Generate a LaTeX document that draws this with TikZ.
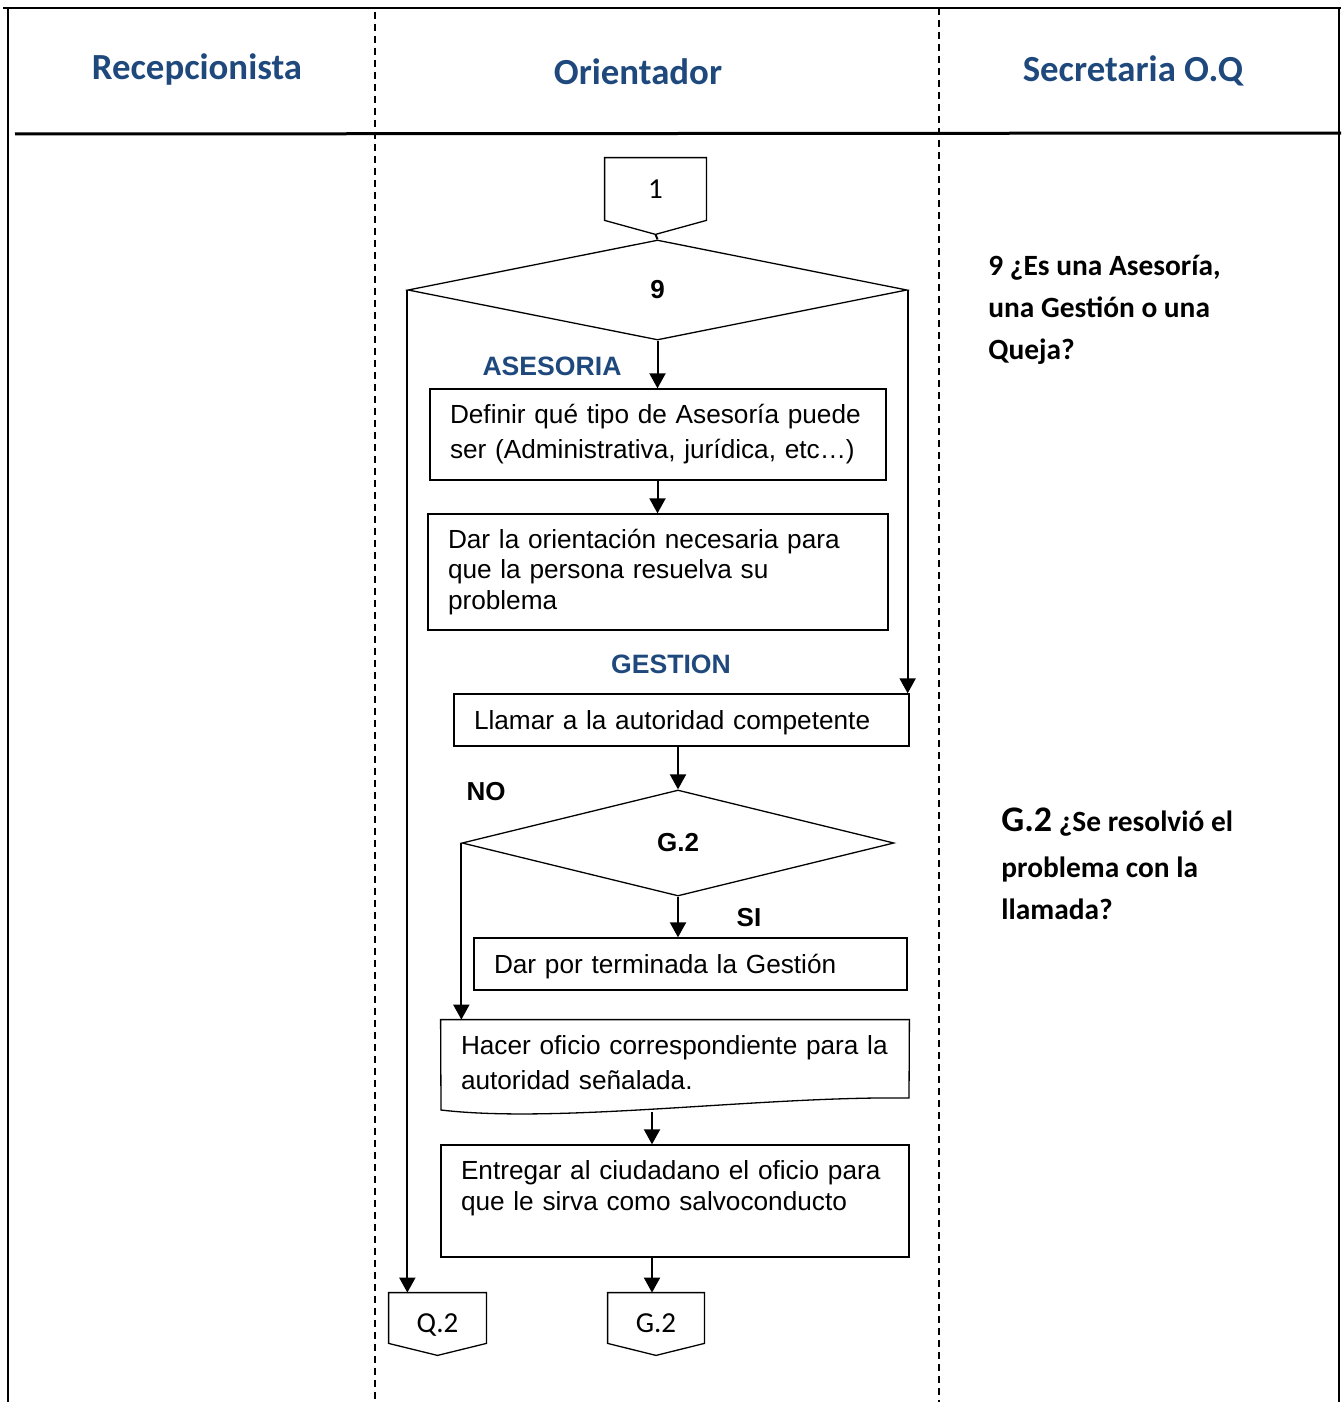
\documentclass[tikz,border=0pt]{standalone}
\usepackage{fontspec}
\setmainfont{Liberation Sans}
\newfontfamily\calfont{Carlito}
\usetikzlibrary{arrows.meta,shapes.geometric,calc}
\definecolor{laneblue}{RGB}{31,73,125}

% off-page connector: box with a pointed bottom
\newcommand\offpagebox[2]{%
  \draw[line width=0.65pt] (#1.north west) -- (#1.north east) -- (#1.south east)
    -- ($(#1.south)+(0,#2)$) -- (#1.south west) -- cycle;}
% lower a label inside its node without changing the node size
\newcommand\lowered[2]{\raisebox{-#1}[\height][\depth]{#2}}

\begin{document}
\begin{tikzpicture}[x=0.5pt,y=-0.5pt,
  every node/.style={inner sep=0pt},
  proc/.style={draw,line width=0.65pt,inner xsep=10pt,align=left,
    font=\fontsize{13.1}{17.5}\selectfont},
  decision/.style={diamond,draw,line width=0.65pt,shape aspect=5,
    font=\bfseries\fontsize{13}{15}\selectfont},
  flow/.style={line width=1pt,-{Triangle[length=7.5pt,width=8pt]}},
  plain/.style={line width=1pt},
  lane/.style={line width=1pt,dash pattern=on 3.5pt off 2.5pt},
  frame/.style={line width=0.75pt},
  tag/.style={font=\bfseries\fontsize{13}{15}\selectfont},
  branch/.style={text=laneblue,font=\bfseries\fontsize{13.3}{15}\selectfont},
  lanetitle/.style={text=laneblue,font=\calfont\bfseries\fontsize{18.4}{22}\selectfont},
  note/.style={align=left,font=\calfont\bfseries\fontsize{14.7}{21}\selectfont},
  offlabel/.style={font=\calfont\fontsize{14.5}{17}\selectfont}
]
\useasboundingbox (0,0) rectangle (1341,1402);

% table frame and swimlanes
\draw[frame] (3,8) -- (1341,8);
\draw[frame] (8,8) -- (8,1402);
\draw[frame] (1339,8) -- (1339,1402);
\draw[line width=1.5pt] (15,134) -- (1341,133);
\draw[lane] (375,12) -- (375,1402);
\draw[lane] (939,8) -- (939,1402);

\node[lanetitle,anchor=base] (t1) at (197,80) {Recepcionista};
\node[lanetitle,anchor=base] (t2) at (638,85) {Orientador};
\node[lanetitle,anchor=base] (t3) at (1133,82) {Secretaria O.Q};

% start connector and first decision
\node[offlabel,minimum width=50.5pt,minimum height=31pt] (c1) at (655.5,189) {1};
\offpagebox{c1}{14}
\coordinate (c1tip) at ($(c1.south)+(0,14)$);
\node[decision,minimum width=249.5pt,minimum height=50pt] (d9) at (657.5,290) {9};
\draw[plain] (c1tip) -- (d9.north);

% ASESORIA branch
\node[branch] (lasesoria) at (552,366) {ASESORIA};
\node[proc,text width=208pt,minimum height=45.5pt] (b1) at (658,434.5)
  {\mbox{Definir qué tipo de Asesoría puede}\\\mbox{ser (Administrativa, jurídica, etc…)}};
\node[proc,text width=210pt,minimum height=58pt,
  font=\fontsize{13.1}{15.25}\selectfont] (b2) at (658,572)
  {Dar la orientación necesaria para\\que la persona resuelva su\\problema};
\draw[flow] (d9.south) -- (d9.south |- b1.north);
\draw[flow] (d9.south |- b1.south) -- (d9.south |- b2.north);

% GESTION branch
\node[branch] (lgestion) at (671,664) {GESTION};
\node[proc,text width=207.5pt,minimum height=26pt] (b3) at (681.5,720)
  {\lowered{1.5pt}{Llamar a la autoridad competente}};
\draw[flow] (d9.east) -- (d9.east |- b3.north);

\node[decision,minimum width=216pt,minimum height=53pt] (g2d) at (678,843) {G.2};
\draw[flow] (g2d.north |- b3.south) -- (g2d.north);
\node[tag] (lno) at (486,792) {NO};
\node[tag] (lsi) at (749,918) {SI};

\node[proc,text width=196.5pt,minimum height=26pt] (b4) at (690.5,964)
  {\lowered{1.5pt}{Dar por terminada la Gestión}};
\draw[flow] (g2d.south) -- (g2d.south |- b4.north);

% document shape
\node[align=left,text width=214pt,minimum height=42.5pt,inner xsep=10pt,
  font=\fontsize{13.1}{17.5}\selectfont] (hacer) at (675,1062.5)
  {\mbox{Hacer oficio correspondiente para la}\\autoridad señalada.};
\draw[line width=0.65pt] (hacer.north west) -- (hacer.north east) -- (909,1098)
  .. controls (760,1096) and (560,1124) .. (441,1110) -- cycle;
\coordinate (hacerbot) at (652,1112);
\draw[flow] (g2d.west) -- (g2d.west |- hacer.north);

\node[proc,text width=214pt,minimum height=56pt,
  font=\fontsize{13.1}{15.5}\selectfont] (b6) at (675,1201)
  {Entregar al ciudadano el oficio para\\que le sirva como salvoconducto\\\mbox{}};
\draw[flow] (hacerbot) -- (hacerbot |- b6.north);

% end connectors
\node[offlabel,minimum width=48.5pt,minimum height=25pt] (q2) at (437.5,1318)
  {\lowered{3.5pt}{Q.2}};
\offpagebox{q2}{12}
\node[offlabel,minimum width=48pt,minimum height=25pt] (g2off) at (656,1318)
  {\lowered{2.5pt}{G.2}};
\offpagebox{g2off}{12}
\draw[flow] (hacerbot |- b6.south) -- (hacerbot |- g2off.north);
\draw[flow] (d9.west) -- (d9.west |- q2.north);

% notes
\node[note,anchor=north west] (n9) at (988,255)
  {9 ¿Es una Asesoría,\\una Gestión o una\\Queja?};
\node[note,anchor=north west] (ng2) at (1001,807)
  {{\fontsize{18}{21}\selectfont G.2} ¿Se resolvió el\\[2pt]problema con la\\llamada?};
\end{tikzpicture}
\end{document}
